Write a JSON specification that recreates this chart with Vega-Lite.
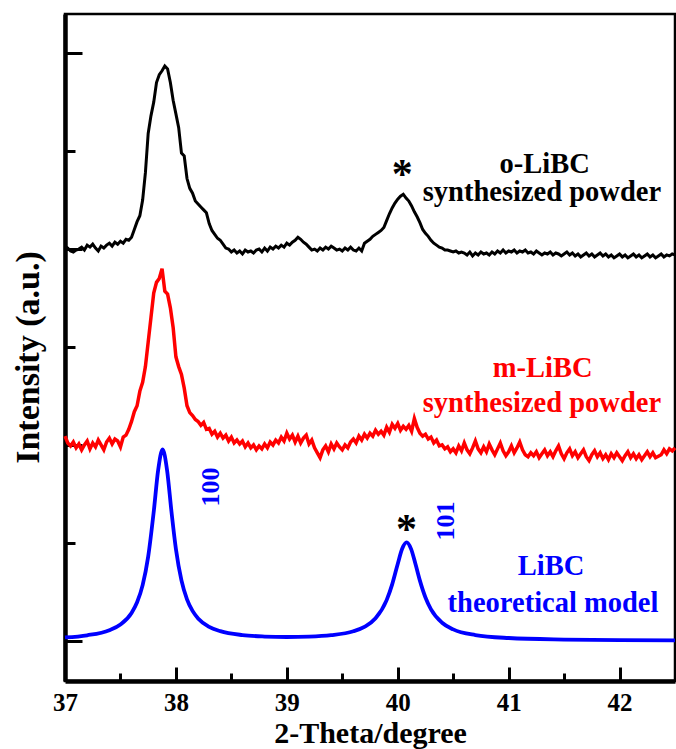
{
  "$schema": "https://vega.github.io/schema/vega-lite/v6.json",
  "width": 610,
  "height": 667,
  "autosize": {"type": "none"},
  "padding": {"left": 65, "top": 14, "right": 1, "bottom": 68},
  "background": "white",
  "config": {
    "view": {"stroke": "black", "strokeWidth": 2.5},
    "font": "Liberation Serif",
    "axis": {"grid": false, "domainColor": "black", "tickColor": "black", "labelColor": "black", "titleColor": "black", "labelFont": "Liberation Serif", "titleFont": "Liberation Serif", "labelFontWeight": "bold", "titleFontWeight": "bold"}
  },
  "datasets": {
    "theory": [
      {"x":37.0,"y":0.035},{"x":37.2,"y":0.057},{"x":37.4,"y":0.109},{"x":37.5,"y":0.167},{"x":37.6,"y":0.285},{"x":37.65,"y":0.394},{"x":37.7,"y":0.569},{"x":37.75,"y":0.86},{"x":37.8,"y":1.318},{"x":37.84,"y":1.744},{"x":37.88,"y":1.955},{"x":37.92,"y":1.745},{"x":37.96,"y":1.319},{"x":38.0,"y":0.938},{"x":38.05,"y":0.617},{"x":38.1,"y":0.424},{"x":38.15,"y":0.306},{"x":38.2,"y":0.229},{"x":38.3,"y":0.143},{"x":38.4,"y":0.099},{"x":38.6,"y":0.059},{"x":38.8,"y":0.044},{"x":39.0,"y":0.039},{"x":39.2,"y":0.043},{"x":39.4,"y":0.058},{"x":39.6,"y":0.098},{"x":39.7,"y":0.143},{"x":39.8,"y":0.23},{"x":39.9,"y":0.416},{"x":39.95,"y":0.577},{"x":40.0,"y":0.785},{"x":40.04,"y":0.94},{"x":40.08,"y":1.005},{"x":40.12,"y":0.939},{"x":40.16,"y":0.784},{"x":40.2,"y":0.615},{"x":40.25,"y":0.443},{"x":40.3,"y":0.322},{"x":40.4,"y":0.185},{"x":40.5,"y":0.117},{"x":40.7,"y":0.059},{"x":41.0,"y":0.029},{"x":41.5,"y":0.013},{"x":42.0,"y":0.007},{"x":42.5,"y":0.005}
    ],
    "oLiBC": [
      {"x":37.0,"y":4.03},{"x":37.025,"y":4.01},{"x":37.05,"y":3.98},{"x":37.075,"y":3.97},{"x":37.1,"y":3.99},{"x":37.125,"y":4.0},{"x":37.15,"y":4.02},{"x":37.175,"y":3.99},{"x":37.2,"y":4.04},{"x":37.225,"y":4.02},{"x":37.25,"y":4.05},{"x":37.275,"y":4.01},{"x":37.3,"y":3.98},{"x":37.325,"y":4.03},{"x":37.35,"y":4.01},{"x":37.375,"y":4.04},{"x":37.4,"y":4.06},{"x":37.425,"y":4.03},{"x":37.45,"y":4.07},{"x":37.475,"y":4.05},{"x":37.5,"y":4.08},{"x":37.525,"y":4.06},{"x":37.55,"y":4.1},{"x":37.575,"y":4.09},{"x":37.6,"y":4.12},{"x":37.625,"y":4.2},{"x":37.65,"y":4.28},{"x":37.675,"y":4.34},{"x":37.7,"y":4.5},{"x":37.725,"y":4.78},{"x":37.75,"y":5.18},{"x":37.775,"y":5.36},{"x":37.8,"y":5.5},{"x":37.825,"y":5.7},{"x":37.85,"y":5.78},{"x":37.875,"y":5.82},{"x":37.9,"y":5.87},{"x":37.925,"y":5.84},{"x":37.95,"y":5.7},{"x":37.975,"y":5.52},{"x":38.0,"y":5.38},{"x":38.025,"y":5.24},{"x":38.05,"y":4.98},{"x":38.075,"y":4.95},{"x":38.1,"y":4.72},{"x":38.125,"y":4.62},{"x":38.15,"y":4.57},{"x":38.175,"y":4.49},{"x":38.2,"y":4.46},{"x":38.225,"y":4.43},{"x":38.25,"y":4.4},{"x":38.275,"y":4.37},{"x":38.3,"y":4.26},{"x":38.325,"y":4.19},{"x":38.35,"y":4.15},{"x":38.375,"y":4.11},{"x":38.4,"y":4.09},{"x":38.425,"y":4.05},{"x":38.45,"y":4.01},{"x":38.475,"y":4.0},{"x":38.5,"y":3.97},{"x":38.525,"y":3.99},{"x":38.55,"y":3.96},{"x":38.575,"y":3.98},{"x":38.6,"y":3.95},{"x":38.625,"y":3.99},{"x":38.65,"y":3.97},{"x":38.675,"y":3.98},{"x":38.7,"y":3.96},{"x":38.725,"y":3.99},{"x":38.75,"y":4.0},{"x":38.775,"y":3.97},{"x":38.8,"y":4.01},{"x":38.825,"y":3.98},{"x":38.85,"y":4.02},{"x":38.875,"y":4.0},{"x":38.9,"y":4.03},{"x":38.925,"y":4.01},{"x":38.95,"y":4.04},{"x":38.975,"y":4.02},{"x":39.0,"y":4.06},{"x":39.025,"y":4.04},{"x":39.05,"y":4.07},{"x":39.075,"y":4.09},{"x":39.1,"y":4.12},{"x":39.125,"y":4.1},{"x":39.15,"y":4.07},{"x":39.175,"y":4.05},{"x":39.2,"y":4.02},{"x":39.225,"y":3.99},{"x":39.25,"y":4.0},{"x":39.275,"y":3.98},{"x":39.3,"y":4.01},{"x":39.325,"y":3.99},{"x":39.35,"y":4.02},{"x":39.375,"y":4.0},{"x":39.4,"y":4.03},{"x":39.425,"y":4.01},{"x":39.45,"y":3.99},{"x":39.475,"y":4.0},{"x":39.5,"y":3.98},{"x":39.525,"y":4.01},{"x":39.55,"y":3.99},{"x":39.575,"y":4.02},{"x":39.6,"y":3.99},{"x":39.625,"y":3.98},{"x":39.65,"y":4.01},{"x":39.675,"y":3.98},{"x":39.7,"y":4.06},{"x":39.725,"y":4.08},{"x":39.75,"y":4.1},{"x":39.775,"y":4.13},{"x":39.8,"y":4.15},{"x":39.825,"y":4.17},{"x":39.85,"y":4.19},{"x":39.875,"y":4.22},{"x":39.9,"y":4.29},{"x":39.925,"y":4.36},{"x":39.95,"y":4.42},{"x":39.975,"y":4.47},{"x":40.0,"y":4.51},{"x":40.025,"y":4.54},{"x":40.05,"y":4.56},{"x":40.075,"y":4.52},{"x":40.1,"y":4.49},{"x":40.125,"y":4.44},{"x":40.15,"y":4.38},{"x":40.175,"y":4.33},{"x":40.2,"y":4.27},{"x":40.225,"y":4.2},{"x":40.25,"y":4.16},{"x":40.275,"y":4.13},{"x":40.3,"y":4.09},{"x":40.325,"y":4.06},{"x":40.35,"y":4.04},{"x":40.375,"y":4.02},{"x":40.4,"y":4.01},{"x":40.425,"y":3.99},{"x":40.45,"y":3.99},{"x":40.475,"y":3.98},{"x":40.5,"y":3.97},{"x":40.525,"y":3.98},{"x":40.55,"y":3.96},{"x":40.575,"y":3.97},{"x":40.6,"y":3.96},{"x":40.625,"y":3.94},{"x":40.65,"y":3.97},{"x":40.675,"y":3.93},{"x":40.7,"y":3.96},{"x":40.725,"y":3.94},{"x":40.75,"y":3.97},{"x":40.775,"y":3.95},{"x":40.8,"y":3.96},{"x":40.825,"y":3.94},{"x":40.85,"y":3.97},{"x":40.875,"y":3.95},{"x":40.9,"y":3.98},{"x":40.925,"y":3.96},{"x":40.95,"y":3.99},{"x":40.975,"y":3.96},{"x":41.0,"y":3.98},{"x":41.025,"y":3.97},{"x":41.05,"y":3.99},{"x":41.075,"y":3.96},{"x":41.1,"y":3.98},{"x":41.125,"y":3.97},{"x":41.15,"y":3.99},{"x":41.175,"y":3.96},{"x":41.2,"y":3.97},{"x":41.225,"y":3.95},{"x":41.25,"y":3.98},{"x":41.275,"y":3.96},{"x":41.3,"y":3.94},{"x":41.325,"y":3.96},{"x":41.35,"y":3.95},{"x":41.375,"y":3.97},{"x":41.4,"y":3.94},{"x":41.425,"y":3.96},{"x":41.45,"y":3.95},{"x":41.475,"y":3.93},{"x":41.5,"y":3.95},{"x":41.525,"y":3.97},{"x":41.55,"y":3.94},{"x":41.575,"y":3.96},{"x":41.6,"y":3.93},{"x":41.625,"y":3.95},{"x":41.65,"y":3.92},{"x":41.675,"y":3.94},{"x":41.7,"y":3.96},{"x":41.725,"y":3.93},{"x":41.75,"y":3.95},{"x":41.775,"y":3.92},{"x":41.8,"y":3.94},{"x":41.825,"y":3.96},{"x":41.85,"y":3.93},{"x":41.875,"y":3.95},{"x":41.9,"y":3.92},{"x":41.925,"y":3.94},{"x":41.95,"y":3.91},{"x":41.975,"y":3.93},{"x":42.0,"y":3.95},{"x":42.025,"y":3.92},{"x":42.05,"y":3.94},{"x":42.075,"y":3.91},{"x":42.1,"y":3.93},{"x":42.125,"y":3.95},{"x":42.15,"y":3.92},{"x":42.175,"y":3.94},{"x":42.2,"y":3.91},{"x":42.225,"y":3.93},{"x":42.25,"y":3.95},{"x":42.275,"y":3.92},{"x":42.3,"y":3.94},{"x":42.325,"y":3.91},{"x":42.35,"y":3.93},{"x":42.375,"y":3.95},{"x":42.4,"y":3.92},{"x":42.425,"y":3.94},{"x":42.45,"y":3.93},{"x":42.475,"y":3.95},{"x":42.5,"y":3.94}
    ],
    "mLiBC": [
      {"x":37.0,"y":2.09},{"x":37.025,"y":2.02},{"x":37.05,"y":1.99},{"x":37.075,"y":2.03},{"x":37.1,"y":1.97},{"x":37.125,"y":2.01},{"x":37.15,"y":1.95},{"x":37.175,"y":2.0},{"x":37.2,"y":2.04},{"x":37.225,"y":1.96},{"x":37.25,"y":2.02},{"x":37.275,"y":1.98},{"x":37.3,"y":2.05},{"x":37.325,"y":2.0},{"x":37.35,"y":1.95},{"x":37.375,"y":2.03},{"x":37.4,"y":2.07},{"x":37.425,"y":2.01},{"x":37.45,"y":2.06},{"x":37.475,"y":2.04},{"x":37.5,"y":1.98},{"x":37.525,"y":2.08},{"x":37.55,"y":2.1},{"x":37.575,"y":2.16},{"x":37.6,"y":2.24},{"x":37.625,"y":2.34},{"x":37.65,"y":2.4},{"x":37.675,"y":2.55},{"x":37.7,"y":2.64},{"x":37.725,"y":2.8},{"x":37.75,"y":3.05},{"x":37.775,"y":3.3},{"x":37.8,"y":3.55},{"x":37.825,"y":3.66},{"x":37.85,"y":3.7},{"x":37.875,"y":3.8},{"x":37.9,"y":3.57},{"x":37.925,"y":3.54},{"x":37.95,"y":3.4},{"x":37.975,"y":3.2},{"x":38.0,"y":2.9},{"x":38.025,"y":2.8},{"x":38.05,"y":2.72},{"x":38.075,"y":2.58},{"x":38.1,"y":2.4},{"x":38.125,"y":2.33},{"x":38.15,"y":2.3},{"x":38.175,"y":2.26},{"x":38.2,"y":2.24},{"x":38.225,"y":2.2},{"x":38.25,"y":2.23},{"x":38.275,"y":2.16},{"x":38.3,"y":2.17},{"x":38.325,"y":2.11},{"x":38.35,"y":2.14},{"x":38.375,"y":2.08},{"x":38.4,"y":2.12},{"x":38.425,"y":2.07},{"x":38.45,"y":2.1},{"x":38.475,"y":2.04},{"x":38.5,"y":2.08},{"x":38.525,"y":2.02},{"x":38.55,"y":2.05},{"x":38.575,"y":2.01},{"x":38.6,"y":2.04},{"x":38.625,"y":1.98},{"x":38.65,"y":2.02},{"x":38.675,"y":1.97},{"x":38.7,"y":2.0},{"x":38.725,"y":1.95},{"x":38.75,"y":1.99},{"x":38.775,"y":1.96},{"x":38.8,"y":2.01},{"x":38.825,"y":1.97},{"x":38.85,"y":2.03},{"x":38.875,"y":2.0},{"x":38.9,"y":2.05},{"x":38.925,"y":2.02},{"x":38.95,"y":2.08},{"x":38.975,"y":2.04},{"x":39.0,"y":2.12},{"x":39.025,"y":2.06},{"x":39.05,"y":2.1},{"x":39.075,"y":2.03},{"x":39.1,"y":2.09},{"x":39.125,"y":2.02},{"x":39.15,"y":2.07},{"x":39.175,"y":2.1},{"x":39.2,"y":2.01},{"x":39.225,"y":2.05},{"x":39.25,"y":1.97},{"x":39.275,"y":1.92},{"x":39.3,"y":1.87},{"x":39.325,"y":1.95},{"x":39.35,"y":1.99},{"x":39.375,"y":1.93},{"x":39.4,"y":2.01},{"x":39.425,"y":1.96},{"x":39.45,"y":2.02},{"x":39.475,"y":1.98},{"x":39.5,"y":1.95},{"x":39.525,"y":2.0},{"x":39.55,"y":1.97},{"x":39.575,"y":2.03},{"x":39.6,"y":2.06},{"x":39.625,"y":2.02},{"x":39.65,"y":2.09},{"x":39.675,"y":2.05},{"x":39.7,"y":2.11},{"x":39.725,"y":2.07},{"x":39.75,"y":2.12},{"x":39.775,"y":2.09},{"x":39.8,"y":2.15},{"x":39.825,"y":2.11},{"x":39.85,"y":2.14},{"x":39.875,"y":2.1},{"x":39.9,"y":2.18},{"x":39.925,"y":2.13},{"x":39.95,"y":2.21},{"x":39.975,"y":2.17},{"x":40.0,"y":2.22},{"x":40.025,"y":2.15},{"x":40.05,"y":2.19},{"x":40.075,"y":2.16},{"x":40.1,"y":2.2},{"x":40.125,"y":2.14},{"x":40.15,"y":2.27},{"x":40.175,"y":2.18},{"x":40.2,"y":2.12},{"x":40.225,"y":2.09},{"x":40.25,"y":2.11},{"x":40.275,"y":2.06},{"x":40.3,"y":2.08},{"x":40.325,"y":2.02},{"x":40.35,"y":2.05},{"x":40.375,"y":1.99},{"x":40.4,"y":2.0},{"x":40.425,"y":1.96},{"x":40.45,"y":1.98},{"x":40.475,"y":1.93},{"x":40.5,"y":1.96},{"x":40.525,"y":1.92},{"x":40.55,"y":1.99},{"x":40.575,"y":1.94},{"x":40.6,"y":2.02},{"x":40.625,"y":1.95},{"x":40.65,"y":1.91},{"x":40.675,"y":1.97},{"x":40.7,"y":2.04},{"x":40.725,"y":1.96},{"x":40.75,"y":1.92},{"x":40.775,"y":1.98},{"x":40.8,"y":1.93},{"x":40.825,"y":2.01},{"x":40.85,"y":1.95},{"x":40.875,"y":1.9},{"x":40.9,"y":1.96},{"x":40.925,"y":2.02},{"x":40.95,"y":1.94},{"x":40.975,"y":1.89},{"x":41.0,"y":1.93},{"x":41.025,"y":1.99},{"x":41.05,"y":1.92},{"x":41.075,"y":1.97},{"x":41.1,"y":2.03},{"x":41.125,"y":1.95},{"x":41.15,"y":1.9},{"x":41.175,"y":1.88},{"x":41.2,"y":1.92},{"x":41.225,"y":1.89},{"x":41.25,"y":1.93},{"x":41.275,"y":1.87},{"x":41.3,"y":1.91},{"x":41.325,"y":1.95},{"x":41.35,"y":1.89},{"x":41.375,"y":1.93},{"x":41.4,"y":1.88},{"x":41.425,"y":1.94},{"x":41.45,"y":1.99},{"x":41.475,"y":1.91},{"x":41.5,"y":1.86},{"x":41.525,"y":1.92},{"x":41.55,"y":1.96},{"x":41.575,"y":1.89},{"x":41.6,"y":1.93},{"x":41.625,"y":1.87},{"x":41.65,"y":1.91},{"x":41.675,"y":1.95},{"x":41.7,"y":1.88},{"x":41.725,"y":1.84},{"x":41.75,"y":1.9},{"x":41.775,"y":1.94},{"x":41.8,"y":1.88},{"x":41.825,"y":1.92},{"x":41.85,"y":1.86},{"x":41.875,"y":1.9},{"x":41.9,"y":1.85},{"x":41.925,"y":1.91},{"x":41.95,"y":1.87},{"x":41.975,"y":1.92},{"x":42.0,"y":1.88},{"x":42.025,"y":1.84},{"x":42.05,"y":1.89},{"x":42.075,"y":1.93},{"x":42.1,"y":1.87},{"x":42.125,"y":1.91},{"x":42.15,"y":1.86},{"x":42.175,"y":1.9},{"x":42.2,"y":1.85},{"x":42.225,"y":1.89},{"x":42.25,"y":1.93},{"x":42.275,"y":1.88},{"x":42.3,"y":1.92},{"x":42.325,"y":1.87},{"x":42.375,"y":1.9},{"x":42.4,"y":1.95},{"x":42.425,"y":1.91},{"x":42.45,"y":1.96},{"x":42.475,"y":1.94},{"x":42.5,"y":1.97}
    ],
    "labels": [
      {"x":41.325,"y":4.776,"text":"o-LiBC","g":"o"},
      {"x":41.30,"y":4.49,"text":"synthesized powder","g":"o"},
      {"x":41.307,"y":2.694,"text":"m-LiBC","g":"m"},
      {"x":41.30,"y":2.337,"text":"synthesized powder","g":"m"},
      {"x":41.383,"y":0.673,"text":"LiBC","g":"t"},
      {"x":41.40,"y":0.296,"text":"theoretical model","g":"t"}
    ],
    "stars": [
      {"x":40.04,"y":4.62,"text":"*"},
      {"x":40.08,"y":1.0,"text":"*"}
    ],
    "hkl": [
      {"x":38.314,"y":1.571,"text":"100"},
      {"x":40.438,"y":1.224,"text":"101"}
    ]
  },
  "layer": [
    {
      "data": {"name": "theory"},
      "mark": {"type": "line", "color": "#0000ff", "strokeWidth": 3.8, "interpolate": "monotone"},
      "encoding": {
        "x": {"field": "x", "type": "quantitative", "scale": {"domain": [37, 42.5], "nice": false, "zero": false},
          "axis": {"orient": "bottom", "values": [37, 38, 39, 40, 41, 42], "ticks": false, "domain": true, "domainWidth": 4.5, "labelFontSize": 25, "labelBaseline": "alphabetic", "labelPadding": 29, "labelFlush": false, "labelOverlap": false, "title": "2-Theta/degree", "titleFontSize": 30, "titleBaseline": "alphabetic", "titleY": 61.5}},
        "y": {"field": "y", "type": "quantitative", "scale": {"domain": [-0.41, 6.4], "nice": false, "zero": false},
          "axis": {"orient": "left", "values": [], "ticks": false, "labels": false, "domain": true, "domainWidth": 4.5, "title": "Intensity (a.u.)", "titleFontSize": 34, "titleAngle": 270, "titleAlign": "center", "titleBaseline": "middle", "titleX": -37, "titleY": 343}}
      }
    },
    {
      "data": {"name": "oLiBC"},
      "mark": {"type": "line", "color": "#000000", "strokeWidth": 3},
      "encoding": {
        "x": {"field": "x", "type": "quantitative", "scale": {"domain": [37, 42.5], "nice": false, "zero": false},
          "axis": {"orient": "bottom", "values": [37, 38, 39, 40, 41, 42], "labels": false, "domain": false, "tickSize": -14, "tickWidth": 3, "title": null}},
        "y": {"field": "y", "type": "quantitative", "scale": {"domain": [-0.41, 6.4], "nice": false, "zero": false},
          "axis": {"orient": "left", "values": [0, 2, 4, 6], "labels": false, "domain": false, "tickSize": -17, "tickWidth": 3, "title": null}}
      }
    },
    {
      "data": {"name": "mLiBC"},
      "mark": {"type": "line", "color": "#ff0000", "strokeWidth": 3.5},
      "encoding": {
        "x": {"field": "x", "type": "quantitative", "scale": {"domain": [37, 42.5], "nice": false, "zero": false},
          "axis": {"orient": "bottom", "values": [37.5, 38.5, 39.5, 40.5, 41.5], "labels": false, "domain": false, "tickSize": -8, "tickWidth": 3, "title": null}},
        "y": {"field": "y", "type": "quantitative", "scale": {"domain": [-0.41, 6.4], "nice": false, "zero": false},
          "axis": {"orient": "left", "values": [1, 3, 5], "labels": false, "domain": false, "tickSize": -10, "tickWidth": 3, "title": null}}
      }
    },
    {
      "data": {"name": "labels"},
      "mark": {"type": "text", "font": "Liberation Serif", "fontWeight": "bold", "fontSize": 28.5, "align": "center", "baseline": "alphabetic"},
      "encoding": {
        "x": {"field": "x", "type": "quantitative", "scale": {"domain": [37, 42.5], "nice": false, "zero": false}, "axis": null},
        "y": {"field": "y", "type": "quantitative", "scale": {"domain": [-0.41, 6.4], "nice": false, "zero": false}, "axis": null},
        "text": {"field": "text"},
        "color": {"field": "g", "type": "nominal", "scale": {"domain": ["o", "m", "t"], "range": ["#000000", "#ff0000", "#0000ff"]}, "legend": null}
      }
    },
    {
      "data": {"name": "stars"},
      "mark": {"type": "text", "font": "Liberation Serif", "fontWeight": "bold", "fontSize": 42, "align": "center", "baseline": "alphabetic", "color": "#000000"},
      "encoding": {
        "x": {"field": "x", "type": "quantitative", "scale": {"domain": [37, 42.5], "nice": false, "zero": false}, "axis": null},
        "y": {"field": "y", "type": "quantitative", "scale": {"domain": [-0.41, 6.4], "nice": false, "zero": false}, "axis": null},
        "text": {"field": "text"}
      }
    },
    {
      "data": {"name": "hkl"},
      "mark": {"type": "text", "font": "Liberation Serif", "fontWeight": "bold", "fontSize": 26, "align": "center", "baseline": "middle", "angle": 270, "color": "#0000ff"},
      "encoding": {
        "x": {"field": "x", "type": "quantitative", "scale": {"domain": [37, 42.5], "nice": false, "zero": false}, "axis": null},
        "y": {"field": "y", "type": "quantitative", "scale": {"domain": [-0.41, 6.4], "nice": false, "zero": false}, "axis": null},
        "text": {"field": "text"}
      }
    }
  ],
  "resolve": {"axis": {"x": "independent", "y": "independent"}}
}
